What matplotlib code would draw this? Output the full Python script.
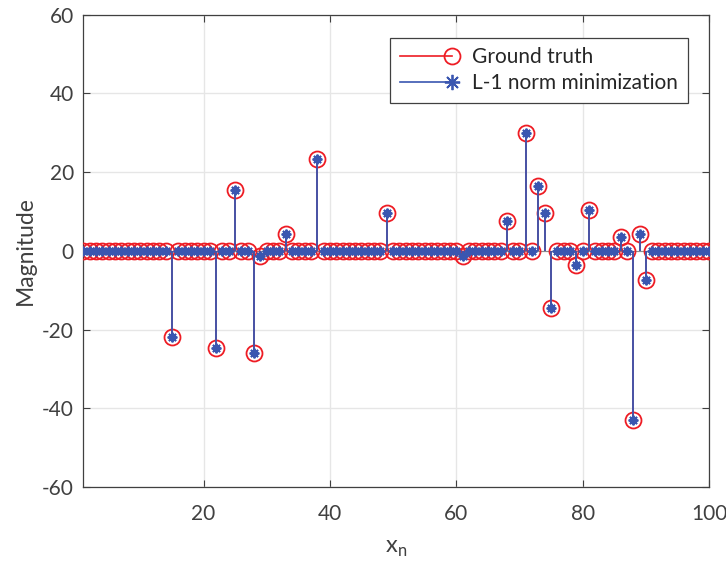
import numpy as np
import matplotlib.pyplot as plt
from matplotlib.lines import Line2D
from matplotlib.legend_handler import HandlerLine2D

plt.rcParams['font.family'] = ['Lato', 'DejaVu Sans']
plt.rcParams['axes.unicode_minus'] = False

# sparse signal, length 100
N = 100
support = [15, 22, 25, 28, 29, 33, 38, 49, 61, 68, 71, 73, 74, 75, 79, 81, 86, 88, 89, 90]
truth_vals = [-21.8, -24.8, 15.4, -25.9, -1.3, 4.3, 23.4, 9.5, -1.3, 7.5,
              30.0, 16.5, 9.6, -14.4, -3.5, 10.3, 3.6, -43.0, 4.2, -7.4]
l1_vals = [-21.8, -24.8, 15.4, -25.9, -1.3, 4.3, 23.4, 9.5, -1.3, 7.5,
           30.0, 16.5, 9.6, -14.4, -3.5, 10.3, 3.6, -43.0, 4.2, -7.4]

n = np.arange(1, N + 1)
x_true = np.zeros(N)
x_true[np.array(support) - 1] = truth_vals
x_l1 = np.zeros(N)
x_l1[np.array(support) - 1] = l1_vals

red = '#ee1c24'
blue = '#3a56b0'
axcol = '#404040'


class EndMarker(HandlerLine2D):
    # legend entry with the marker on the right end of the line
    def create_artists(self, *args, **kwargs):
        arts = super().create_artists(*args, **kwargs)
        arts[0].set_markevery([2])
        return arts


fig = plt.figure(figsize=(7.26, 5.67), dpi=100)
ax = fig.add_axes([0.115, 0.141, 0.8616, 0.8333])

ax.axhline(0, color='#8c8c8c', lw=0.8, zorder=1)
ax.vlines(n, 0, x_true, color=red, lw=1.2, zorder=2)
ax.plot(n, x_true, ls='none', marker='o', ms=11.5, mfc='none', mec=red, mew=1.3, zorder=3)
ax.vlines(n, 0, x_l1, color=blue, lw=1.3, zorder=4)
ax.plot(n, x_l1, ls='none', marker=(8, 2, 0), ms=7, mec=blue, mew=1.4, zorder=5)

ax.set_xlim(1, 100)
ax.set_ylim(-60, 60)
ax.set_xticks([20, 40, 60, 80, 100])
ax.set_yticks(np.arange(-60, 61, 20))
ax.grid(True, color='#e6e6e6', lw=1)
ax.set_axisbelow(True)
ax.tick_params(direction='in', top=True, right=True, labelsize=15,
               colors=axcol, length=5)
ax.tick_params(axis='x', pad=12)
ax.tick_params(axis='y', pad=7)
for s in ax.spines.values():
    s.set_color(axcol)
    s.set_linewidth(0.9)

ax.set_xlabel(r'x$_\mathregular{n}$', fontsize=17, color=axcol, labelpad=10)
ax.set_ylabel('Magnitude', fontsize=16.5, color=axcol, labelpad=4)

h_true = Line2D([], [], color=red, lw=1.2, marker='o', ms=11.5, mfc='none', mec=red, mew=1.3)
h_l1 = Line2D([], [], color=blue, lw=1.2, marker=(8, 2, 0), ms=11, mec=blue, mew=1.3)
leg = ax.legend([h_true, h_l1], ['Ground truth', 'L-1 norm minimization'],
                loc='upper right', bbox_to_anchor=(0.966, 0.951), borderaxespad=0,
                fontsize=15, numpoints=1, handlelength=2.5, handletextpad=1.0,
                fancybox=False, framealpha=1, edgecolor=axcol,
                borderpad=0.45, labelspacing=0.3,
                handler_map={Line2D: EndMarker()})
leg.get_frame().set_linewidth(0.9)
for t in leg.get_texts():
    t.set_color('#262626')

fig.savefig('out.png', dpi=100)
